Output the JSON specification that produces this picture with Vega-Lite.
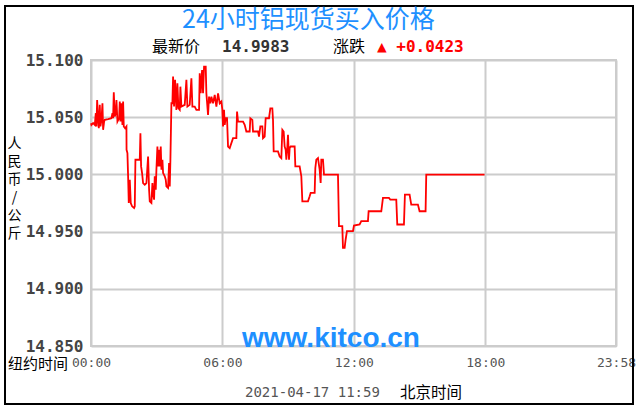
{
  "$schema": "https://vega.github.io/schema/vega-lite/v6.json",
  "width": 525,
  "height": 286,
  "autosize": "none",
  "padding": {"left": 91, "top": 60, "right": 26, "bottom": 66},
  "background": "white",
  "config": {
    "view": {"stroke": "#cccccc", "strokeWidth": 2}
  },
  "data": {"values": [
    {"h":0,"p":15.0448},{"h":0.021,"p":15.0433},{"h":0.097,"p":15.0448},{"h":0.173,"p":15.0433},{"h":0.219,"p":15.0535},{"h":0.249,"p":15.0419},{"h":0.28,"p":15.0651},{"h":0.325,"p":15.0477},{"h":0.356,"p":15.0404},{"h":0.401,"p":15.0608},{"h":0.432,"p":15.0419},{"h":0.477,"p":15.0477},{"h":0.523,"p":15.0622},{"h":0.553,"p":15.039},{"h":0.599,"p":15.0462},{"h":0.629,"p":15.0477},{"h":0.781,"p":15.0483},{"h":0.933,"p":15.0491},{"h":0.979,"p":15.0535},{"h":1.009,"p":15.0491},{"h":1.04,"p":15.0718},{"h":1.086,"p":15.0506},{"h":1.131,"p":15.0535},{"h":1.162,"p":15.0651},{"h":1.207,"p":15.0462},{"h":1.283,"p":15.0491},{"h":1.314,"p":15.0637},{"h":1.344,"p":15.0462},{"h":1.39,"p":15.0622},{"h":1.435,"p":15.0433},{"h":1.466,"p":15.0637},{"h":1.496,"p":15.0419},{"h":1.557,"p":15.0404},{"h":1.618,"p":15.0419},{"h":1.623,"p":15.0215},{"h":1.663,"p":15.0186},{"h":1.694,"p":14.9983},{"h":1.724,"p":14.975},{"h":1.77,"p":14.9953},{"h":1.815,"p":14.975},{"h":1.876,"p":14.9721},{"h":1.968,"p":14.9706},{"h":1.998,"p":14.9721},{"h":2.028,"p":15.0128},{"h":2.226,"p":15.0128},{"h":2.256,"p":15.036},{"h":2.287,"p":15.007},{"h":2.332,"p":15.0012},{"h":2.378,"p":14.9924},{"h":2.454,"p":14.991},{"h":2.53,"p":14.9924},{"h":2.606,"p":15.0157},{"h":2.652,"p":14.9866},{"h":2.682,"p":14.9765},{"h":2.758,"p":14.975},{"h":2.804,"p":14.9924},{"h":2.834,"p":14.9837},{"h":2.88,"p":14.9779},{"h":2.91,"p":14.9983},{"h":2.956,"p":14.9866},{"h":2.986,"p":15.0041},{"h":3.032,"p":15.0244},{"h":3.062,"p":15.007},{"h":3.093,"p":15.0215},{"h":3.138,"p":15.007},{"h":3.184,"p":15.0244},{"h":3.215,"p":15.0041},{"h":3.26,"p":15.0128},{"h":3.291,"p":15.0012},{"h":3.367,"p":14.9983},{"h":3.412,"p":14.9953},{"h":3.443,"p":14.9895},{"h":3.519,"p":14.9881},{"h":3.564,"p":15.0099},{"h":3.595,"p":14.9895},{"h":3.625,"p":15.0128},{"h":3.671,"p":15.0622},{"h":3.716,"p":15.0622},{"h":3.747,"p":15.0855},{"h":3.792,"p":15.0593},{"h":3.838,"p":15.0826},{"h":3.899,"p":15.0564},{"h":3.944,"p":15.0797},{"h":3.99,"p":15.0578},{"h":4.051,"p":15.0564},{"h":4.081,"p":15.0767},{"h":4.127,"p":15.0593},{"h":4.279,"p":15.0608},{"h":4.355,"p":15.0826},{"h":4.401,"p":15.0593},{"h":4.507,"p":15.0608},{"h":4.583,"p":15.084},{"h":4.629,"p":15.0593},{"h":4.735,"p":15.0593},{"h":4.811,"p":15.0564},{"h":4.933,"p":15.0564},{"h":4.963,"p":15.0884},{"h":5.009,"p":15.0709},{"h":5.07,"p":15.0913},{"h":5.115,"p":15.0709},{"h":5.161,"p":15.0942},{"h":5.237,"p":15.0942},{"h":5.267,"p":15.0709},{"h":5.343,"p":15.052},{"h":5.389,"p":15.068},{"h":5.45,"p":15.0622},{"h":5.496,"p":15.068},{"h":5.572,"p":15.0622},{"h":5.648,"p":15.0695},{"h":5.724,"p":15.0593},{"h":5.8,"p":15.0709},{"h":5.876,"p":15.0622},{"h":5.952,"p":15.0637},{"h":5.997,"p":15.0564},{"h":6.028,"p":15.0419},{"h":6.073,"p":15.0564},{"h":6.104,"p":15.0433},{"h":6.149,"p":15.0491},{"h":6.21,"p":15.0491},{"h":6.256,"p":15.0244},{"h":6.332,"p":15.023},{"h":6.484,"p":15.0317},{"h":6.636,"p":15.0317},{"h":6.667,"p":15.0549},{"h":6.712,"p":15.0462},{"h":6.94,"p":15.0462},{"h":7.016,"p":15.0433},{"h":7.092,"p":15.0375},{"h":7.244,"p":15.0375},{"h":7.275,"p":15.0491},{"h":7.366,"p":15.0477},{"h":7.396,"p":15.0375},{"h":7.625,"p":15.0375},{"h":7.67,"p":15.0331},{"h":7.731,"p":15.0419},{"h":7.822,"p":15.0419},{"h":7.853,"p":15.0317},{"h":7.929,"p":15.0331},{"h":7.974,"p":15.0491},{"h":8.126,"p":15.0491},{"h":8.187,"p":15.0578},{"h":8.278,"p":15.0578},{"h":8.309,"p":15.0477},{"h":8.339,"p":15.0201},{"h":8.537,"p":15.0201},{"h":8.613,"p":15.0157},{"h":8.689,"p":15.0142},{"h":8.735,"p":15.039},{"h":8.795,"p":15.0375},{"h":8.841,"p":15.0244},{"h":8.887,"p":15.0215},{"h":8.917,"p":15.0128},{"h":8.963,"p":15.0244},{"h":8.993,"p":15.0346},{"h":9.039,"p":15.0128},{"h":9.069,"p":15.023},{"h":9.115,"p":15.0244},{"h":9.297,"p":15.0244},{"h":9.328,"p":15.007},{"h":9.525,"p":15.007},{"h":9.602,"p":14.9983},{"h":9.648,"p":14.9765},{"h":9.906,"p":14.9765},{"h":9.982,"p":14.9809},{"h":10.028,"p":14.9838},{"h":10.21,"p":14.9838},{"h":10.241,"p":15.0056},{"h":10.286,"p":15.0129},{"h":10.362,"p":15.0143},{"h":10.438,"p":15.0042},{"h":10.484,"p":14.9925},{"h":10.514,"p":15.0129},{"h":10.59,"p":15.0129},{"h":10.636,"p":14.9998},{"h":11.275,"p":14.9998},{"h":11.32,"p":14.9547},{"h":11.472,"p":14.9547},{"h":11.503,"p":14.9358},{"h":11.579,"p":14.9358},{"h":11.625,"p":14.9431},{"h":11.685,"p":14.9504},{"h":11.959,"p":14.9504},{"h":12.005,"p":14.9553},{"h":12.263,"p":14.9562},{"h":12.339,"p":14.9591},{"h":12.643,"p":14.9591},{"h":12.674,"p":14.9678},{"h":13.252,"p":14.9678},{"h":13.328,"p":14.9794},{"h":13.601,"p":14.9794},{"h":13.662,"p":14.978},{"h":13.936,"p":14.978},{"h":13.982,"p":14.9562},{"h":14.286,"p":14.9562},{"h":14.331,"p":14.9824},{"h":14.544,"p":14.9824},{"h":14.62,"p":14.9736},{"h":14.924,"p":14.9736},{"h":15.0,"p":14.9678},{"h":15.274,"p":14.9678},{"h":15.305,"p":14.9998},{"h":17.966,"p":14.9998}
  ]},
  "layer": [
    {
      "mark": {"type": "line", "color": "#ff0000", "strokeWidth": 1.8, "interpolate": "linear"},
      "encoding": {
        "x": {"field": "h", "type": "quantitative",
          "scale": {"domain": [0, 23.967], "nice": false, "zero": false},
          "axis": {"values": [0, 6, 12, 18, 23.967],
            "labelExpr": "datum.value < 23 ? (datum.value < 10 ? '0' : '') + datum.value + ':00' : '23:58'",
            "labelFont": "DejaVu Sans Mono", "labelFontSize": 13, "labelColor": "#555555",
            "labelPadding": 16, "labelBaseline": "middle", "labelFlush": false, "labelOverlap": false,
            "ticks": false, "tickSize": 0, "domain": false,
            "grid": true, "gridColor": "#cccccc", "gridWidth": 2, "title": null}},
        "y": {"field": "p", "type": "quantitative",
          "scale": {"domain": [14.85, 15.1], "nice": false, "zero": false},
          "axis": {"values": [14.85, 14.9, 14.95, 15.0, 15.05, 15.1], "format": ".3f",
            "labelFont": "DejaVu Sans Mono", "labelFontWeight": "bold", "labelFontSize": 16, "labelColor": "#444444",
            "labelPadding": 8, "labelBaseline": "middle", "labelFlush": false, "labelOverlap": false,
            "ticks": false, "tickSize": 0, "domain": false,
            "grid": true, "gridColor": "#cccccc", "gridWidth": 2,
            "title": ["人", "民", "币", "/", "公", "斤"],
            "titleFont": "Noto Sans CJK SC", "titleFontSize": 14, "titleFontWeight": "normal", "titleColor": "#000000",
            "titleAngle": 0, "titleAlign": "center", "titleBaseline": "top", "titleX": -77, "titleY": 76, "titleLineHeight": 18}}
      }
    },
    {
      "data": {"values": [{"label": "frame"}]},
      "mark": {"type": "rect", "filled": false, "stroke": "#000000", "strokeWidth": 2},
      "encoding": {
        "x": {"datum": -3.926, "type": "quantitative"}, "x2": {"datum": 24.743},
        "y": {"datum": 15.1472, "type": "quantitative"}, "y2": {"datum": 14.7993}
      }
    },
    {
      "data": {"values": [{"label": "24小时铝现货买入价格"}]},
      "mark": {"type": "text", "font": "Noto Sans CJK SC", "fontSize": 25, "color": "#1E90FF", "align": "center", "baseline": "middle"},
      "encoding": {"x": {"datum": 9.929, "type": "quantitative"}, "y": {"datum": 15.1350, "type": "quantitative"}, "text": {"field": "label"}}
    },
    {
      "data": {"values": [{"label": "最新价"}]},
      "mark": {"type": "text", "font": "Noto Sans CJK SC", "fontSize": 16, "color": "#000000", "align": "left", "baseline": "middle"},
      "encoding": {"x": {"datum": 2.785, "type": "quantitative"}, "y": {"datum": 15.1118, "type": "quantitative"}, "text": {"field": "label"}}
    },
    {
      "data": {"values": [{"label": "14.9983"}]},
      "mark": {"type": "text", "font": "DejaVu Sans Mono", "fontWeight": "bold", "fontSize": 16, "color": "#333333", "align": "left", "baseline": "middle"},
      "encoding": {"x": {"datum": 5.98, "type": "quantitative"}, "y": {"datum": 15.1118, "type": "quantitative"}, "text": {"field": "label"}}
    },
    {
      "data": {"values": [{"label": "涨跌"}]},
      "mark": {"type": "text", "font": "Noto Sans CJK SC", "fontSize": 16, "color": "#000000", "align": "left", "baseline": "middle"},
      "encoding": {"x": {"datum": 11.048, "type": "quantitative"}, "y": {"datum": 15.1118, "type": "quantitative"}, "text": {"field": "label"}}
    },
    {
      "data": {"values": [{"label": "▲ +0.0423"}]},
      "mark": {"type": "text", "font": "DejaVu Sans Mono", "fontWeight": "bold", "fontSize": 16, "color": "#ff0000", "align": "left", "baseline": "middle"},
      "encoding": {"x": {"datum": 13.056, "type": "quantitative"}, "y": {"datum": 15.1118, "type": "quantitative"}, "text": {"field": "label"}}
    },
    {
      "data": {"values": [{"label": "www.kitco.cn"}]},
      "mark": {"type": "text", "font": "Liberation Sans", "fontWeight": "bold", "fontSize": 28, "color": "#1E90FF", "align": "center", "baseline": "alphabetic"},
      "encoding": {"x": {"datum": 10.956, "type": "quantitative"}, "y": {"datum": 14.8487, "type": "quantitative"}, "text": {"field": "label"}}
    },
    {
      "data": {"values": [{"label": "纽约时间"}]},
      "mark": {"type": "text", "font": "Noto Sans CJK SC", "fontSize": 15, "color": "#000000", "align": "left", "baseline": "middle"},
      "encoding": {"x": {"datum": -3.789, "type": "quantitative"}, "y": {"datum": 14.8343, "type": "quantitative"}, "text": {"field": "label"}}
    },
    {
      "data": {"values": [{"label": "2021-04-17 11:59"}]},
      "mark": {"type": "text", "font": "DejaVu Sans Mono", "fontSize": 14, "color": "#555555", "align": "left", "baseline": "middle"},
      "encoding": {"x": {"datum": 7.03, "type": "quantitative"}, "y": {"datum": 14.8089, "type": "quantitative"}, "text": {"field": "label"}}
    },
    {
      "data": {"values": [{"label": "北京时间"}]},
      "mark": {"type": "text", "font": "Noto Sans CJK SC", "fontSize": 15.5, "color": "#000000", "align": "left", "baseline": "middle"},
      "encoding": {"x": {"datum": 14.106, "type": "quantitative"}, "y": {"datum": 14.8089, "type": "quantitative"}, "text": {"field": "label"}}
    }
  ]
}
